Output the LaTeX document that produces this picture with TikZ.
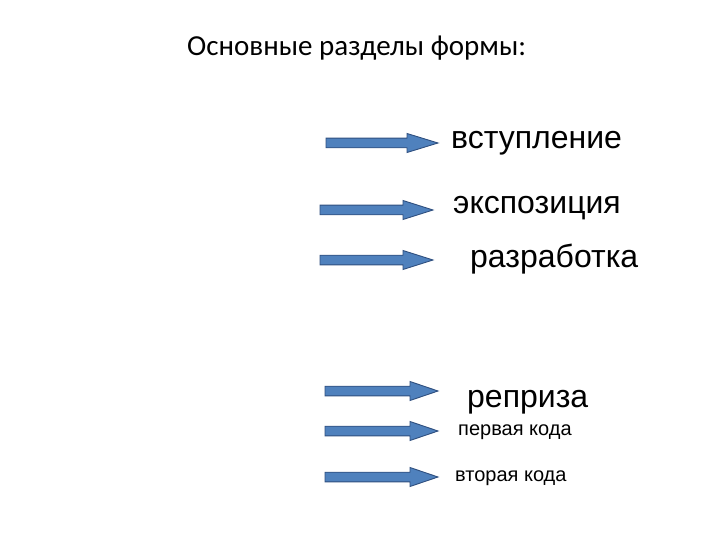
\documentclass[tikz,border=0pt]{standalone}
\usepackage{fontspec}
\setmainfont{Liberation Sans}
\newfontfamily\titlefont{Carlito}
\definecolor{arrowfill}{HTML}{4F81BD}
\definecolor{arrowline}{HTML}{2F4F7F}
\newcommand{\blockarrow}[5]{% left x, tip x, center y, head start x, name
  \draw[barrow] (#1,#3-4.8) -- (#4,#3-4.8) -- (#4,#3-9.5) -- (#2,#3)
    -- (#4,#3+9.5) -- (#4,#3+4.8) -- (#1,#3+4.8) -- cycle;
  \coordinate (#5) at (#2,#3);}
\begin{document}
\begin{tikzpicture}[x=1pt,y=-1pt,
  barrow/.style={fill=arrowfill,draw=arrowline,line width=0.9pt,line join=miter},
  bigtext/.style={anchor=base west,inner sep=0pt,font=\fontsize{32}{36}\selectfont},
  smalltext/.style={anchor=base west,inner sep=0pt,font=\fontsize{20}{23}\selectfont},
  titletext/.style={anchor=base west,inner sep=0pt,font=\titlefont\fontsize{29}{34}\selectfont}]
\useasboundingbox (0,0) rectangle (720,540);
\node[titletext] (title) at (187,56) {Основные разделы формы:};
\blockarrow{326}{438}{143}{407}{a1}
\blockarrow{320}{433}{210}{403}{a2}
\blockarrow{320}{433}{260}{403}{a3}
\blockarrow{325}{438}{391}{410}{a4}
\blockarrow{325}{438}{431}{410}{a5}
\blockarrow{325}{438}{477}{410}{a6}
\node[bigtext] (t1) at (451,149) {вступление};
\node[bigtext] (t2) at (453,214) {экспозиция};
\node[bigtext] (t3) at (470,267) {разработка};
\node[bigtext] (t4) at (467,407) {реприза};
\node[smalltext] (t5) at (458,435) {первая кода};
\node[smalltext] (t6) at (455,481) {вторая кода};
\end{tikzpicture}
\end{document}
